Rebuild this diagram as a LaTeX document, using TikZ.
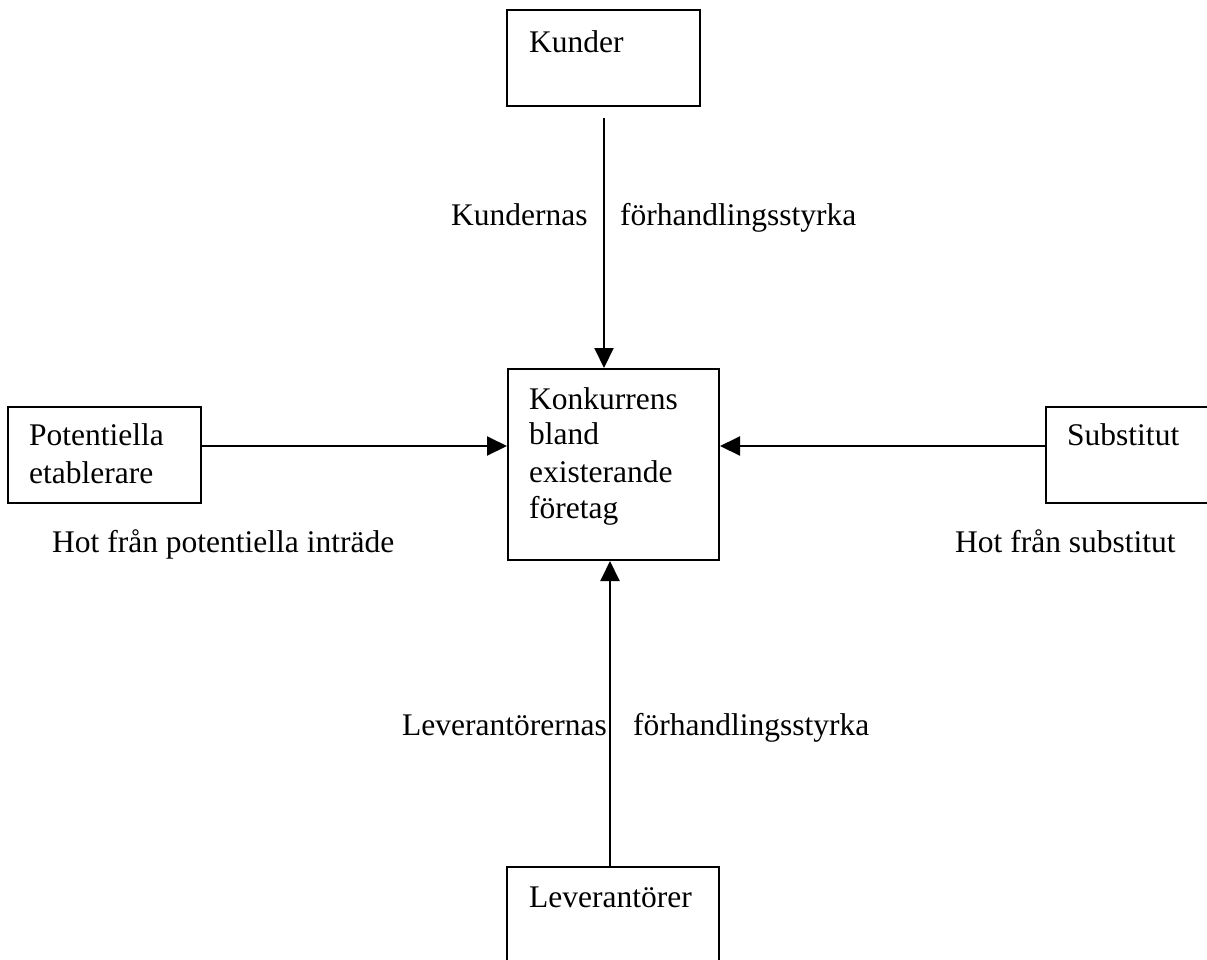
\documentclass[tikz,border=0pt]{standalone}
\usepackage{fontspec}
\setmainfont{Liberation Serif}
\usetikzlibrary{arrows.meta}
\tikzset{
  box/.style={draw, line width=2pt, rectangle, inner sep=0pt},
  lbl/.style={anchor=base west, inner sep=0pt, font=\fontsize{31.5}{36.5}\selectfont},
  arr/.style={line width=2pt, -{Triangle[width=19pt,length=20pt]}},
}
\begin{document}
\begin{tikzpicture}[x=1pt,y=-1pt]
\useasboundingbox (0,0) rectangle (1207,959);
\clip (0,0) rectangle (1207,959);
% boxes
\node[box, minimum width=193pt, minimum height=96pt] (kunder) at (603.5,58) {};
\node[box, minimum width=211pt, minimum height=191pt] (center) at (613.5,464.5) {};
\node[box, minimum width=193pt, minimum height=96pt] (pot) at (104.5,455) {};
\node[box, minimum width=193pt, minimum height=96pt] (sub) at (1142.5,455) {};
\node[box, minimum width=212pt, minimum height=96pt] (lev) at (613,915) {};
% box texts
\node[lbl] (tkunder) at (529,52) {Kunder};
\node[lbl] (tc1) at (529,409) {Konkurrens};
\node[lbl] (tc2) at (529,444) {bland};
\node[lbl] (tc3) at (529,482) {existerande};
\node[lbl] (tc4) at (529,518) {företag};
\node[lbl] (tp1) at (29,445) {Potentiella};
\node[lbl] (tp2) at (29,483) {etablerare};
\node[lbl] (tsub) at (1067,445) {Substitut};
\node[lbl] (tlev) at (529,907) {Leverantörer};
% labels
\node[lbl] (l1) at (451,225) {Kundernas};
\node[lbl] (l2) at (620,225) {förhandlingsstyrka};
\node[lbl] (l3) at (52,552) {Hot från potentiella inträde};
\node[lbl] (l4) at (955,552) {Hot från substitut};
\node[lbl] (l5) at (402,735) {Leverantörernas};
\node[lbl] (l6) at (633,735) {förhandlingsstyrka};
% arrows
\draw[arr, shorten <=11pt] ([xshift=0.5pt]kunder.south) -- ([xshift=0.5pt]kunder.south |- center.north);
\draw[arr] ([yshift=9pt]pot.east) -- ([yshift=9pt]pot.east -| center.west);
\draw[arr] ([yshift=9pt]sub.west) -- ([yshift=9pt]sub.west -| center.east);
\draw[arr] ([xshift=-3pt]lev.north) -- ([xshift=-3pt]lev.north |- center.south);
\end{tikzpicture}
\end{document}
